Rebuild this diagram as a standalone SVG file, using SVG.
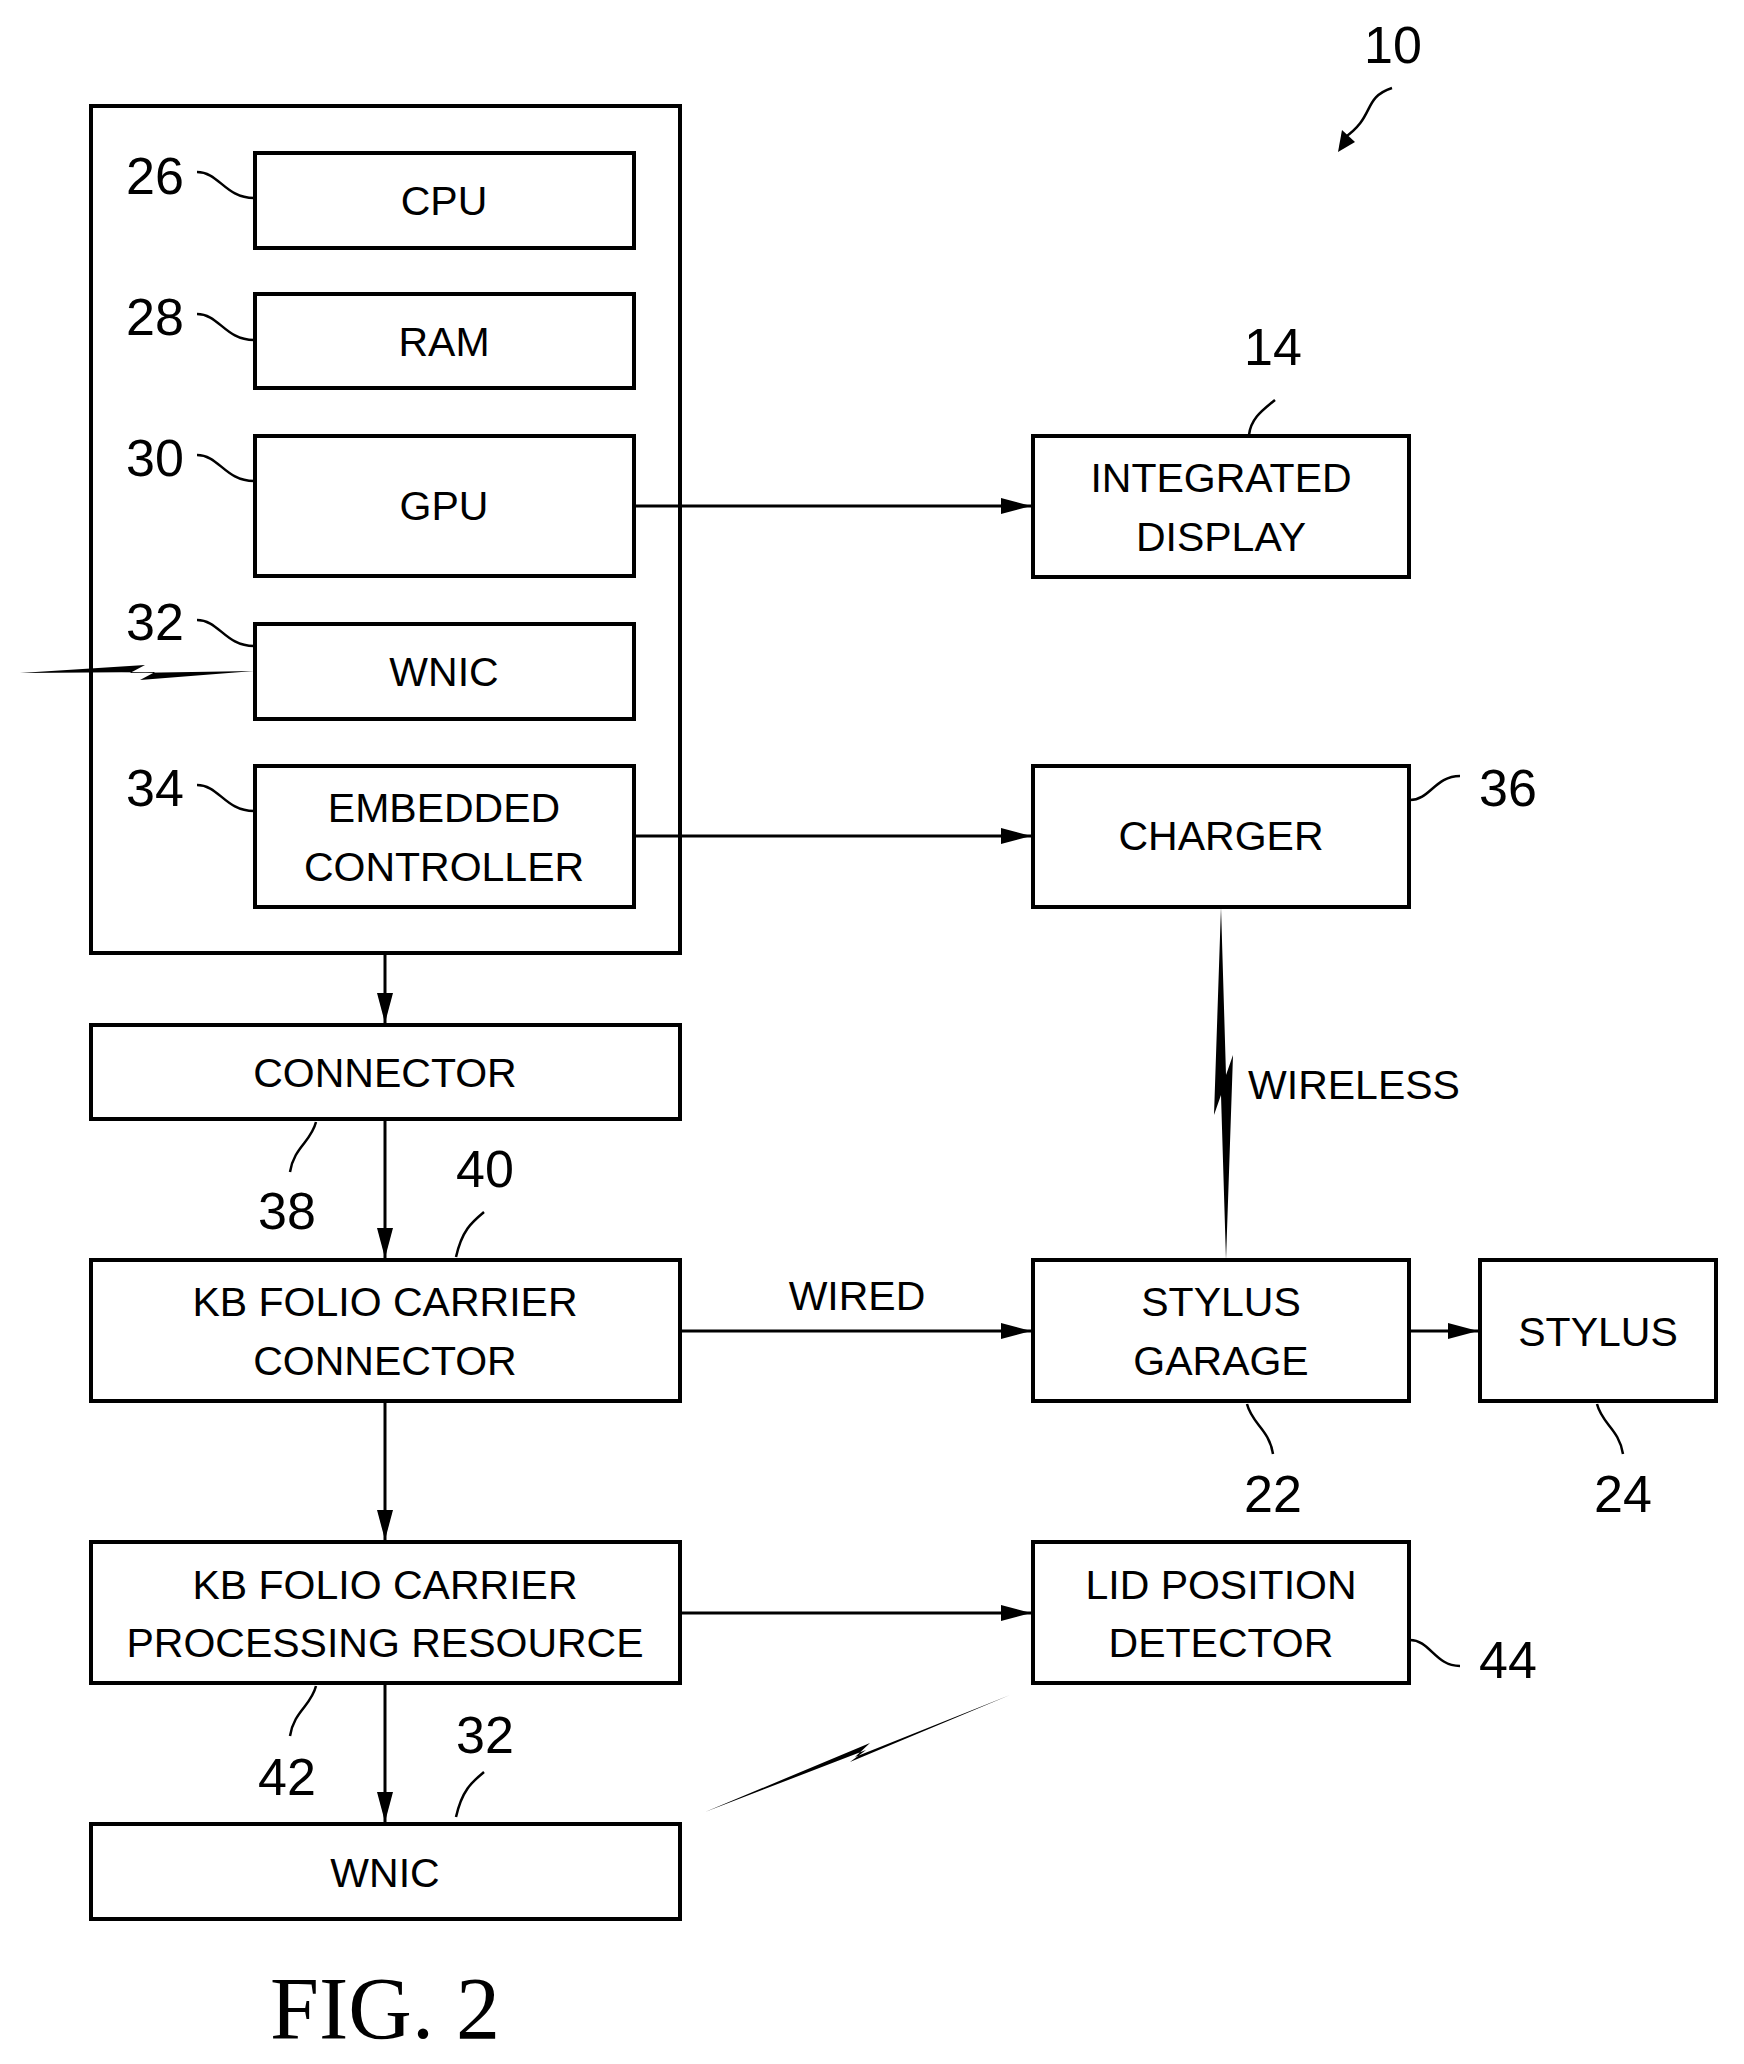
<svg xmlns="http://www.w3.org/2000/svg" width="1744" height="2064" viewBox="0 0 1744 2064">
<style>
rect.b{fill:#fff;stroke:#000;stroke-width:4}
.t{font-family:"Liberation Sans",Arial,sans-serif;font-size:41px;text-anchor:middle}
.n{font-family:"Liberation Sans",Arial,sans-serif;font-size:52px;text-anchor:middle}
.c{fill:none;stroke:#000;stroke-width:3}
.l{fill:none;stroke:#000;stroke-width:2.5}
</style>
<defs>
<marker id="b" viewBox="0 0 30 20" refX="30" refY="10" markerWidth="30" markerHeight="20" orient="auto" markerUnits="userSpaceOnUse"><path d="M0,2L30,10L0,18z"/></marker></defs>
<rect width="1744" height="2064" fill="#fff"/>
<g id="outer"><rect class="b" x="91" y="106" width="589" height="847"/></g>
<g id="cpu"><rect class="b" x="255" y="153" width="379" height="95"/><text class="t" x="444" y="215">CPU</text><text class="n" x="155" y="194">26</text><path class="l" d="M197,172c22,0 28,26 57,26"/></g>
<g id="ram"><rect class="b" x="255" y="294" width="379" height="94"/><text class="t" x="444" y="356">RAM</text><text class="n" x="155" y="335">28</text><path class="l" d="M197,314c22,0 28,26 57,26"/></g>
<g id="gpu"><rect class="b" x="255" y="436" width="379" height="140"/><text class="t" x="444" y="520">GPU</text><text class="n" x="155" y="476">30</text><path class="l" d="M197,455c22,0 28,26 57,26"/></g>
<g id="wnic1"><rect class="b" x="255" y="624" width="379" height="95"/><text class="t" x="444" y="686">WNIC</text><text class="n" x="155" y="640">32</text><path class="l" d="M197,620c22,0 28,26 57,26"/></g>
<g id="ec"><rect class="b" x="255" y="766" width="379" height="141"/><text class="t" x="444" y="822">EMBEDDED</text><text class="t" x="444" y="881">CONTROLLER</text><text class="n" x="155" y="806">34</text><path class="l" d="M197,785c22,0 28,26 57,26"/></g>
<g id="display"><rect class="b" x="1033" y="436" width="376" height="141"/><text class="t" x="1221" y="492">INTEGRATED</text><text class="t" x="1221" y="551">DISPLAY</text><text class="n" x="1273" y="365">14</text><path class="l" d="M1275,400c-12,10 -24,18 -26,35"/></g>
<g id="charger"><rect class="b" x="1033" y="766" width="376" height="141"/><text class="t" x="1221" y="850">CHARGER</text><text class="n" x="1508" y="806">36</text><path class="l" d="M1410,800c20,0 25,-24 50,-24"/></g>
<g id="connector"><rect class="b" x="91" y="1025" width="589" height="94"/><text class="t" x="385" y="1087">CONNECTOR</text><text class="n" x="287" y="1229">38</text><path class="l" d="M316,1122c-5,20 -22,25 -26,50"/></g>
<g id="kbconn"><rect class="b" x="91" y="1260" width="589" height="141"/><text class="t" x="385" y="1316">KB FOLIO CARRIER</text><text class="t" x="385" y="1375">CONNECTOR</text><text class="n" x="485" y="1187">40</text><path class="l" d="M484,1212c-12,10 -22,18 -28,45"/></g>
<g id="garage"><rect class="b" x="1033" y="1260" width="376" height="141"/><text class="t" x="1221" y="1316">STYLUS</text><text class="t" x="1221" y="1375">GARAGE</text><text class="n" x="1273" y="1512">22</text><path class="l" d="M1247,1404c5,20 22,25 26,50"/></g>
<g id="stylus"><rect class="b" x="1480" y="1260" width="236" height="141"/><text class="t" x="1598" y="1346">STYLUS</text><text class="n" x="1623" y="1512">24</text><path class="l" d="M1597,1404c5,20 22,25 26,50"/></g>
<g id="kbproc"><rect class="b" x="91" y="1542" width="589" height="141"/><text class="t" x="385" y="1599">KB FOLIO CARRIER</text><text class="t" x="385" y="1657">PROCESSING RESOURCE</text><text class="n" x="287" y="1795">42</text><path class="l" d="M316,1686c-5,20 -22,25 -26,50"/></g>
<g id="lid"><rect class="b" x="1033" y="1542" width="376" height="141"/><text class="t" x="1221" y="1599">LID POSITION</text><text class="t" x="1221" y="1657">DETECTOR</text><text class="n" x="1508" y="1678">44</text><path class="l" d="M1410,1640c20,0 25,26 50,26"/></g>
<g id="wnic2"><rect class="b" x="91" y="1824" width="589" height="95"/><text class="t" x="385" y="1887">WNIC</text><text class="n" x="485" y="1753">32</text><path class="l" d="M484,1772c-12,10 -22,18 -28,45"/></g>
<g id="label10"><text class="n" x="1393" y="63">10</text><path class="l" d="M1392,88c-30,10 -16,28 -48,50"/><path d="M1338,152L1342,130L1355,142z"/></g>
<g id="connectors">
<path class="c" d="M634,506H1031" marker-end="url(#b)"/>
<path class="c" d="M634,836H1031" marker-end="url(#b)"/>
<path class="c" d="M385,953V1023" marker-end="url(#b)"/>
<path class="c" d="M385,1119V1258" marker-end="url(#b)"/>
<path class="c" d="M385,1401V1540" marker-end="url(#b)"/>
<path class="c" d="M385,1683V1822" marker-end="url(#b)"/>
<path class="c" d="M680,1331H1031" marker-end="url(#b)"/>
<path class="c" d="M1409,1331H1478" marker-end="url(#b)"/>
<path class="c" d="M680,1613H1031" marker-end="url(#b)"/>
<path d="M1221,907L1226,1075L1233,1055L1226,1260L1221,1095L1214,1115z"/>
<path d="M20,673L145,665L130,673L254,671L140,680L155,672z"/>
<path d="M705,1812L870,1743L855,1757L1010,1695L850,1762L866,1750z"/>
<text class="t" x="1354" y="1099">WIRELESS</text>
<text class="t" x="857" y="1310">WIRED</text>
</g>
<text x="385" y="2038" font-family="Liberation Serif,serif" font-size="88" text-anchor="middle">FIG. 2</text>
</svg>
